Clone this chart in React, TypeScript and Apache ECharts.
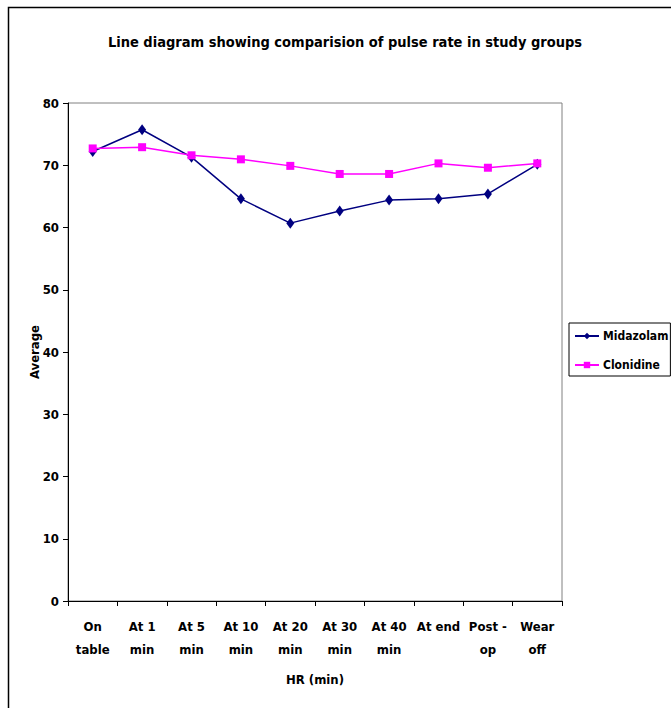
import React, { useEffect, useRef } from "react";
import * as echarts from "echarts";

const categories = [
  "On\ntable",
  "At 1\nmin",
  "At 5\nmin",
  "At 10\nmin",
  "At 20\nmin",
  "At 30\nmin",
  "At 40\nmin",
  "At end",
  "Post -\nop",
  "Wear\noff",
];
const midazolam = [72.2, 75.7, 71.3, 64.6, 60.7, 62.65, 64.4, 64.6, 65.4, 70.15];
const clonidine = [72.7, 72.9, 71.6, 70.95, 69.9, 68.6, 68.6, 70.3, 69.6, 70.3];
const seriesNames = ["Midazolam", "Clonidine"];
const yTicks = { min: 0, max: 80, interval: 10 };

const FONT = "'Liberation Sans Narrow', 'DejaVu Sans Condensed', Arial, sans-serif";

export default function App() {
  const ref = useRef<HTMLDivElement>(null);
  useEffect(() => {
    if (!ref.current) return;
    const chart = echarts.init(ref.current, null, { renderer: "svg" });
    chart.setOption({
      animation: false,
      backgroundColor: "#ffffff",
      graphic: [
        {
          type: "rect",
          shape: { x: 8.5, y: 7.5, width: 720, height: 760 },
          style: { fill: "none", stroke: "#000", lineWidth: 1.5 },
          silent: true,
        },
        {
          type: "text",
          x: 345,
          y: 42,
          style: {
            text: "Line diagram showing comparision of pulse rate in study groups",
            textAlign: "center",
            textVerticalAlign: "middle",
            fontFamily: FONT,
            fontWeight: "bold",
            fontSize: 14.5,
            fill: "#000",
          },
        },
      ],
      legend: {
        orient: "vertical",
        left: 569,
        top: 323,
        data: seriesNames,
        borderColor: "#000",
        borderWidth: 1,
        padding: [7, 2, 5, 5],
        itemGap: 17,
        itemWidth: 24,
        itemHeight: 8,
        textStyle: { fontFamily: FONT, fontWeight: "bold", fontSize: 12, color: "#000", padding: [0, 0, 0, -1] },
      },
      grid: {
        left: 68,
        top: 103,
        right: 109,
        bottom: 107,
        show: true,
        borderColor: "#808080",
        borderWidth: 1,
      },
      xAxis: {
        type: "category",
        data: categories,
        boundaryGap: true,
        name: "HR (min)",
        nameLocation: "middle",
        nameGap: 72,
        nameMoveOverlap: false,
        nameTextStyle: { fontFamily: FONT, fontWeight: "bold", fontSize: 13, color: "#000" },
        axisLine: { lineStyle: { color: "#000", width: 1 } },
        axisTick: { show: true, length: 5, lineStyle: { color: "#000" } },
        axisLabel: {
          interval: 0,
          margin: 14,
          lineHeight: 23,
          fontFamily: FONT,
          fontWeight: "bold",
          fontSize: 13,
          color: "#000",
        },
        splitLine: { show: false },
      },
      yAxis: {
        type: "value",
        min: yTicks.min,
        max: yTicks.max,
        interval: yTicks.interval,
        name: "Average",
        nameLocation: "middle",
        nameGap: 27,
        nameMoveOverlap: false,
        nameTextStyle: { fontFamily: FONT, fontWeight: "bold", fontSize: 13, color: "#000" },
        axisLine: { show: true, lineStyle: { color: "#000", width: 1 } },
        axisTick: { show: true, length: 5, lineStyle: { color: "#000" } },
        axisLabel: { margin: 9, fontFamily: FONT, fontWeight: "bold", fontSize: 13, color: "#000" },
        splitLine: { show: false },
      },
      series: [
        {
          name: seriesNames[0],
          type: "line",
          data: midazolam,
          symbol: "diamond",
          symbolSize: [8, 11],
          itemStyle: { color: "#000080" },
          lineStyle: { color: "#000080", width: 1.5 },
        },
        {
          name: seriesNames[1],
          type: "line",
          data: clonidine,
          symbol: "rect",
          symbolSize: 8,
          itemStyle: { color: "#ff00ff" },
          lineStyle: { color: "#ff00ff", width: 1.5 },
        },
      ],
    });
    return () => chart.dispose();
  }, []);
  return (
    <div
      ref={ref}
      style={{ position: "fixed", left: 0, top: 0, width: 671, height: 708 }}
    />
  );
}
